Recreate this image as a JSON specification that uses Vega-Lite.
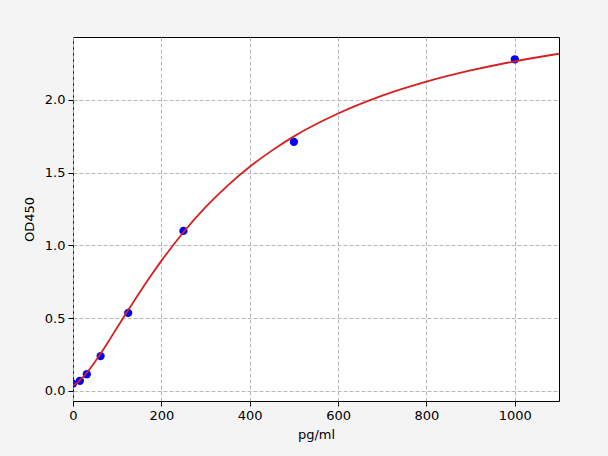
{
  "$schema": "https://vega.github.io/schema/vega-lite/v6.json",
  "autosize": "none",
  "padding": {"left": 73, "top": 37, "right": 49, "bottom": 55},
  "width": 486,
  "height": 364,
  "background": "#f4f4f4",
  "config": {
    "view": {"fill": "white", "stroke": "black", "strokeWidth": 1},
    "font": "DejaVu Sans",
    "axis": {
      "labelFont": "DejaVu Sans",
      "titleFont": "DejaVu Sans",
      "labelFontSize": 13,
      "titleFontSize": 13,
      "titleFontWeight": "normal",
      "labelColor": "black",
      "titleColor": "black",
      "tickColor": "black",
      "tickSize": 5,
      "labelFlush": false,
      "domain": false,
      "gridColor": "#b0b0b0",
      "gridDash": [4, 2],
      "gridWidth": 0.9
    }
  },
  "datasets": {
    "points": [
      {"conc": 0, "od": 0.05},
      {"conc": 15.6, "od": 0.07},
      {"conc": 31.25, "od": 0.115},
      {"conc": 62.5, "od": 0.24},
      {"conc": 125, "od": 0.537},
      {"conc": 250, "od": 1.10},
      {"conc": 500, "od": 1.712},
      {"conc": 1000, "od": 2.28}
    ],
    "curve": [
      {"conc": 0, "od": 0.04},
      {"conc": 5, "od": 0.046},
      {"conc": 10, "od": 0.057},
      {"conc": 20, "od": 0.086},
      {"conc": 40, "od": 0.159},
      {"conc": 60, "od": 0.246},
      {"conc": 80, "od": 0.339},
      {"conc": 100, "od": 0.436},
      {"conc": 125, "od": 0.556},
      {"conc": 150, "od": 0.674},
      {"conc": 175, "od": 0.787},
      {"conc": 200, "od": 0.894},
      {"conc": 250, "od": 1.091},
      {"conc": 300, "od": 1.263},
      {"conc": 350, "od": 1.412},
      {"conc": 400, "od": 1.541},
      {"conc": 450, "od": 1.652},
      {"conc": 500, "od": 1.750},
      {"conc": 600, "od": 1.907},
      {"conc": 700, "od": 2.030},
      {"conc": 800, "od": 2.126},
      {"conc": 900, "od": 2.203},
      {"conc": 1000, "od": 2.266},
      {"conc": 1100, "od": 2.318}
    ]
  },
  "encoding": {
    "x": {
      "field": "conc",
      "type": "quantitative",
      "title": "pg/ml",
      "scale": {"domain": [0, 1100], "nice": false, "zero": false},
      "axis": {"values": [0, 200, 400, 600, 800, 1000], "format": "d", "titlePadding": 6, "labelPadding": 3}
    },
    "y": {
      "field": "od",
      "type": "quantitative",
      "title": "OD450",
      "scale": {"domain": [-0.069, 2.433], "nice": false, "zero": false},
      "axis": {"values": [0, 0.5, 1, 1.5, 2], "format": ".1f", "titlePadding": 8, "labelPadding": 3}
    }
  },
  "layer": [
    {
      "data": {"name": "points"},
      "mark": {"type": "point", "filled": true, "color": "#0000ff", "opacity": 1, "size": 68, "clip": true}
    },
    {
      "data": {"name": "curve"},
      "mark": {"type": "line", "color": "#d62020", "strokeWidth": 1.8, "interpolate": "monotone", "clip": true}
    }
  ]
}
